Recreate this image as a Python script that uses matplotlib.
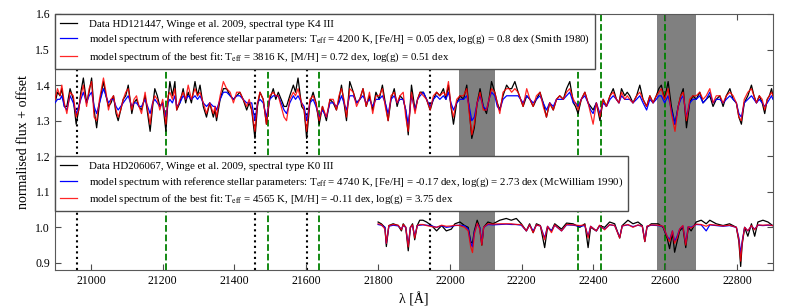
import numpy as np
import matplotlib
matplotlib.use('Agg')
import matplotlib.pyplot as plt

plt.rcParams['font.family'] = ['Liberation Serif', 'DejaVu Serif']
plt.rcParams['mathtext.fontset'] = 'stix'

#top spectrum, HD121447 (offset +0.35)
lam_top = [20900, 20907, 20914, 20919, 20926, 20933, 20942, 20951, 20959, 20966,
           20972, 20979, 20988, 20995, 21002, 21009, 21016, 21024, 21035, 21042,
           21049, 21056, 21063, 21070, 21076, 21083, 21090, 21097, 21104, 21114,
           21120, 21127, 21134, 21141, 21151, 21158, 21165, 21172, 21178, 21185,
           21192, 21200, 21209, 21215, 21220, 21227, 21234, 21239, 21248, 21257,
           21264, 21271, 21280, 21290, 21297, 21304, 21313, 21322, 21331, 21341,
           21346, 21350, 21360, 21369, 21378, 21388, 21397, 21406, 21415, 21424,
           21434, 21441, 21448, 21457, 21464, 21471, 21480, 21489, 21498, 21508,
           21515, 21522, 21530, 21538, 21545, 21554, 21564, 21570, 21577, 21587,
           21594, 21601, 21610, 21619, 21627, 21636, 21645, 21656, 21666, 21675,
           21684, 21691, 21698, 21705, 21712, 21721, 21731, 21740, 21749, 21758,
           21767, 21776, 21785, 21794, 21803, 21812, 21820, 21828, 21836, 21845,
           21853, 21861, 21870, 21877, 21884, 21893, 21903, 21910, 21917, 21926,
           21935, 21945, 21954, 21963, 21972, 21982, 21989, 21996, 22003, 22010,
           22019, 22028, 22038, 22047, 22054, 22061, 22068, 22076, 22084, 22093,
           22102, 22109, 22116, 22125, 22132, 22139, 22148, 22158, 22165, 22172,
           22181, 22190, 22197, 22204, 22214, 22223, 22232, 22241, 22251, 22260,
           22269, 22278, 22288, 22297, 22306, 22316, 22325, 22334, 22344, 22350,
           22357, 22366, 22376, 22385, 22392, 22399, 22408, 22418, 22427, 22436,
           22446, 22455, 22464, 22471, 22478, 22487, 22494, 22501, 22510, 22520,
           22529, 22538, 22548, 22557, 22566, 22575, 22582, 22589, 22598, 22608,
           22617, 22627, 22636, 22643, 22650, 22659, 22668, 22677, 22686, 22696,
           22705, 22714, 22724, 22733, 22742, 22752, 22761, 22770, 22780, 22789,
           22798, 22805, 22812, 22820, 22830, 22840, 22847, 22854, 22862, 22870,
           22877, 22884, 22890, 22896, 22900]
data_top = [1.35, 1.38, 1.37, 1.39, 1.34, 1.34, 1.39, 1.36, 1.29, 1.33,
            1.38, 1.42, 1.35, 1.38, 1.42, 1.33, 1.28, 1.35, 1.41, 1.37,
            1.34, 1.35, 1.37, 1.32, 1.30, 1.33, 1.36, 1.37, 1.40, 1.32,
            1.35, 1.36, 1.34, 1.33, 1.37, 1.32, 1.27, 1.34, 1.39, 1.37,
            1.34, 1.35, 1.27, 1.36, 1.41, 1.37, 1.41, 1.33, 1.35, 1.39,
            1.35, 1.38, 1.35, 1.41, 1.37, 1.40, 1.34, 1.31, 1.35, 1.31,
            1.33, 1.30, 1.36, 1.39, 1.39, 1.37, 1.36, 1.37, 1.38, 1.36,
            1.33, 1.35, 1.33, 1.25, 1.34, 1.38, 1.36, 1.29, 1.36, 1.39,
            1.36, 1.38, 1.36, 1.34, 1.34, 1.37, 1.40, 1.38, 1.42, 1.34,
            1.33, 1.25, 1.35, 1.38, 1.35, 1.29, 1.34, 1.30, 1.36, 1.35,
            1.33, 1.36, 1.40, 1.35, 1.30, 1.41, 1.38, 1.35, 1.36, 1.39,
            1.34, 1.37, 1.33, 1.38, 1.36, 1.40, 1.35, 1.30, 1.36, 1.39,
            1.34, 1.37, 1.36, 1.33, 1.26, 1.40, 1.33, 1.36, 1.38, 1.38,
            1.36, 1.33, 1.36, 1.38, 1.37, 1.39, 1.36, 1.40, 1.34, 1.29,
            1.35, 1.37, 1.36, 1.40, 1.33, 1.25, 1.28, 1.35, 1.39, 1.34,
            1.32, 1.36, 1.41, 1.38, 1.35, 1.33, 1.37, 1.40, 1.39, 1.39,
            1.41, 1.38, 1.36, 1.34, 1.37, 1.36, 1.34, 1.36, 1.38, 1.35,
            1.31, 1.35, 1.33, 1.36, 1.37, 1.36, 1.39, 1.41, 1.35, 1.34,
            1.32, 1.36, 1.38, 1.35, 1.34, 1.33, 1.35, 1.30, 1.36, 1.34,
            1.37, 1.39, 1.36, 1.35, 1.39, 1.37, 1.38, 1.37, 1.35, 1.37,
            1.40, 1.36, 1.34, 1.37, 1.35, 1.37, 1.39, 1.40, 1.36, 1.41,
            1.34, 1.29, 1.34, 1.37, 1.39, 1.28, 1.35, 1.37, 1.36, 1.38,
            1.35, 1.36, 1.37, 1.34, 1.36, 1.37, 1.34, 1.37, 1.39, 1.36,
            1.35, 1.31, 1.29, 1.35, 1.37, 1.40, 1.37, 1.35, 1.37, 1.35,
            1.32, 1.36, 1.37, 1.39, 1.37]
ref_top = [1.35, 1.36, 1.36, 1.37, 1.34, 1.33, 1.37, 1.35, 1.32, 1.34,
           1.36, 1.38, 1.35, 1.37, 1.38, 1.34, 1.32, 1.35, 1.39, 1.37,
           1.35, 1.36, 1.36, 1.34, 1.33, 1.34, 1.35, 1.36, 1.37, 1.34,
           1.35, 1.35, 1.34, 1.34, 1.36, 1.34, 1.32, 1.35, 1.36, 1.35,
           1.34, 1.35, 1.31, 1.35, 1.36, 1.35, 1.37, 1.34, 1.35, 1.37,
           1.36, 1.37, 1.36, 1.37, 1.36, 1.37, 1.35, 1.34, 1.35, 1.34,
           1.34, 1.33, 1.36, 1.38, 1.38, 1.37, 1.36, 1.37, 1.37, 1.36,
           1.35, 1.35, 1.35, 1.30, 1.35, 1.36, 1.35, 1.31, 1.36, 1.37,
           1.37, 1.37, 1.35, 1.33, 1.32, 1.35, 1.37, 1.36, 1.37, 1.35,
           1.34, 1.30, 1.35, 1.36, 1.34, 1.31, 1.33, 1.31, 1.35, 1.35,
           1.34, 1.35, 1.37, 1.35, 1.33, 1.37, 1.37, 1.35, 1.36, 1.37,
           1.35, 1.36, 1.34, 1.36, 1.36, 1.37, 1.35, 1.32, 1.36, 1.37,
           1.35, 1.36, 1.36, 1.33, 1.29, 1.37, 1.33, 1.36, 1.37, 1.38,
           1.36, 1.34, 1.36, 1.37, 1.36, 1.37, 1.36, 1.38, 1.35, 1.33,
           1.35, 1.36, 1.36, 1.37, 1.34, 1.30, 1.31, 1.35, 1.37, 1.34,
           1.33, 1.36, 1.38, 1.37, 1.34, 1.33, 1.36, 1.37, 1.37, 1.37,
           1.37, 1.37, 1.36, 1.35, 1.37, 1.36, 1.35, 1.36, 1.37, 1.35,
           1.33, 1.35, 1.34, 1.36, 1.36, 1.36, 1.37, 1.38, 1.35, 1.35,
           1.34, 1.36, 1.37, 1.35, 1.33, 1.32, 1.35, 1.32, 1.35, 1.34,
           1.36, 1.37, 1.36, 1.35, 1.37, 1.36, 1.36, 1.36, 1.35, 1.36,
           1.37, 1.35, 1.33, 1.36, 1.35, 1.36, 1.37, 1.37, 1.35, 1.37,
           1.33, 1.29, 1.34, 1.36, 1.37, 1.31, 1.35, 1.36, 1.36, 1.37,
           1.35, 1.36, 1.38, 1.35, 1.36, 1.36, 1.35, 1.36, 1.37, 1.36,
           1.35, 1.32, 1.31, 1.35, 1.36, 1.37, 1.36, 1.35, 1.36, 1.35,
           1.34, 1.35, 1.36, 1.37, 1.36]
fit_top = [1.36, 1.39, 1.37, 1.40, 1.35, 1.32, 1.38, 1.37, 1.31, 1.33,
           1.37, 1.40, 1.34, 1.39, 1.41, 1.31, 1.30, 1.36, 1.42, 1.38,
           1.33, 1.36, 1.37, 1.33, 1.31, 1.33, 1.36, 1.38, 1.39, 1.33,
           1.36, 1.37, 1.34, 1.32, 1.38, 1.33, 1.29, 1.35, 1.37, 1.36,
           1.33, 1.36, 1.29, 1.37, 1.38, 1.36, 1.39, 1.33, 1.36, 1.38,
           1.36, 1.40, 1.36, 1.39, 1.37, 1.38, 1.35, 1.32, 1.35, 1.32,
           1.34, 1.31, 1.37, 1.41, 1.39, 1.38, 1.35, 1.38, 1.38, 1.36,
           1.34, 1.36, 1.33, 1.27, 1.35, 1.38, 1.36, 1.29, 1.37, 1.38,
           1.37, 1.37, 1.34, 1.31, 1.30, 1.36, 1.38, 1.37, 1.39, 1.35,
           1.33, 1.27, 1.36, 1.37, 1.35, 1.30, 1.34, 1.31, 1.36, 1.36,
           1.33, 1.37, 1.39, 1.36, 1.31, 1.39, 1.38, 1.34, 1.36, 1.39,
           1.34, 1.38, 1.32, 1.37, 1.37, 1.39, 1.34, 1.30, 1.37, 1.38,
           1.35, 1.37, 1.38, 1.31, 1.27, 1.38, 1.32, 1.36, 1.38, 1.37,
           1.36, 1.33, 1.37, 1.38, 1.37, 1.38, 1.37, 1.41, 1.34, 1.31,
           1.36, 1.37, 1.37, 1.39, 1.32, 1.26, 1.29, 1.35, 1.38, 1.33,
           1.33, 1.36, 1.39, 1.38, 1.35, 1.32, 1.38, 1.39, 1.39, 1.38,
           1.39, 1.38, 1.36, 1.34, 1.39, 1.36, 1.34, 1.37, 1.38, 1.34,
           1.31, 1.35, 1.33, 1.36, 1.37, 1.36, 1.38, 1.39, 1.36, 1.35,
           1.33, 1.36, 1.38, 1.35, 1.32, 1.29, 1.35, 1.31, 1.36, 1.34,
           1.37, 1.38, 1.36, 1.35, 1.38, 1.36, 1.37, 1.36, 1.35, 1.37,
           1.38, 1.36, 1.34, 1.37, 1.35, 1.37, 1.38, 1.39, 1.36, 1.39,
           1.32, 1.27, 1.34, 1.37, 1.38, 1.30, 1.36, 1.37, 1.37, 1.38,
           1.36, 1.37, 1.39, 1.35, 1.37, 1.37, 1.35, 1.37, 1.38, 1.37,
           1.35, 1.31, 1.30, 1.36, 1.38, 1.39, 1.37, 1.35, 1.37, 1.36,
           1.33, 1.36, 1.37, 1.38, 1.37]

#bottom spectrum, HD206067 (no offset)
lam_bot = [21800, 21809, 21819, 21823, 21830, 21842, 21856, 21865, 21870, 21877,
           21884, 21890, 21896, 21902, 21909, 21916, 21925, 21935, 21949, 21963,
           21977, 21990, 22004, 22014, 22028, 22041, 22051, 22058, 22063, 22068,
           22076, 22083, 22089, 22094, 22106, 22120, 22139, 22157, 22171, 22185,
           22199, 22213, 22222, 22232, 22241, 22252, 22264, 22272, 22283, 22292,
           22311, 22325, 22343, 22362, 22376, 22385, 22392, 22408, 22417, 22431,
           22445, 22459, 22473, 22480, 22496, 22510, 22524, 22536, 22543, 22549,
           22561, 22580, 22594, 22605, 22612, 22620, 22626, 22633, 22640, 22649,
           22657, 22664, 22672, 22686, 22700, 22714, 22724, 22742, 22761, 22779,
           22798, 22805, 22810, 22814, 22821, 22830, 22840, 22849, 22858, 22872,
           22886, 22899]
data_bot = [1.015, 1.010, 1.000, 0.946, 1.005, 1.010, 1.005, 0.990, 1.010, 1.000,
            0.934, 1.000, 1.010, 0.965, 1.005, 1.020, 1.020, 1.015, 1.005, 0.990,
            1.005, 0.990, 0.995, 1.010, 1.015, 1.005, 1.000, 0.960, 0.955, 0.990,
            1.020, 1.000, 0.950, 1.000, 1.015, 1.010, 1.020, 1.025, 1.020, 1.025,
            1.010, 0.990, 1.010, 0.985, 1.010, 1.005, 0.943, 1.000, 0.990, 1.010,
            0.995, 1.012, 1.010, 1.000, 1.010, 0.943, 1.000, 0.990, 1.005, 1.000,
            1.015, 1.010, 0.970, 1.005, 1.020, 1.010, 1.015, 1.005, 0.960, 1.000,
            1.010, 1.010, 1.000, 0.970, 0.940, 0.985, 0.930, 0.960, 0.990, 1.000,
            0.943, 1.000, 0.990, 1.015, 1.020, 1.010, 1.020, 1.010, 1.005, 1.010,
            1.000, 0.960, 0.890, 0.950, 1.000, 0.975, 1.010, 0.975, 1.015, 1.020,
            1.015, 1.005]
ref_bot = [1.008, 1.006, 1.000, 0.955, 1.003, 1.006, 1.004, 0.995, 1.005, 1.000,
           0.950, 1.000, 1.005, 0.975, 1.005, 1.006, 1.007, 1.006, 1.004, 1.000,
           1.005, 1.000, 1.002, 1.005, 1.006, 1.004, 0.995, 0.955, 0.945, 0.985,
           1.010, 1.000, 0.955, 1.000, 1.008, 1.007, 1.008, 1.009, 1.008, 1.008,
           1.006, 0.990, 1.006, 0.990, 1.006, 1.004, 0.970, 1.003, 0.990, 1.006,
           0.990, 1.007, 1.006, 1.003, 1.005, 0.975, 1.003, 0.990, 1.004, 0.995,
           1.007, 1.005, 0.972, 1.004, 1.007, 1.002, 1.006, 1.003, 0.962, 1.003,
           1.006, 1.005, 1.002, 0.975, 0.965, 0.990, 0.960, 0.975, 0.995, 1.004,
           0.955, 1.002, 1.000, 1.008, 1.007, 0.990, 1.007, 1.005, 1.003, 1.005,
           1.000, 0.970, 0.925, 0.960, 1.000, 0.990, 1.004, 0.995, 1.006, 1.005,
           1.006, 1.005]
fit_bot = [1.010, 1.008, 0.995, 0.955, 1.005, 1.008, 1.006, 0.993, 1.008, 1.000,
           0.945, 1.000, 1.007, 0.970, 1.005, 1.008, 1.008, 1.005, 1.002, 1.000,
           1.006, 1.003, 1.004, 1.006, 1.005, 1.000, 0.990, 0.945, 0.929, 0.980,
           1.012, 0.995, 0.950, 1.000, 1.010, 1.009, 1.010, 1.010, 1.010, 1.008,
           1.008, 0.990, 1.007, 0.985, 1.007, 1.004, 0.965, 1.003, 0.985, 1.007,
           0.990, 1.008, 1.007, 1.005, 1.007, 0.970, 1.003, 0.990, 1.006, 0.993,
           1.008, 1.005, 0.970, 1.004, 1.008, 1.000, 1.007, 1.003, 0.960, 1.003,
           1.007, 1.006, 1.003, 0.975, 0.960, 0.990, 0.955, 0.970, 0.995, 1.005,
           0.950, 1.002, 0.998, 1.009, 1.008, 1.003, 1.008, 1.006, 1.004, 1.006,
           1.000, 0.965, 0.905, 0.955, 1.000, 0.990, 1.005, 0.993, 1.007, 1.006,
           1.007, 1.005]

#marked lines and excluded regions
dotted_lines = [20960, 21457, 21601, 21945]
dashed_lines = [21208, 21492, 21636, 22357, 22420, 22600]
masked = [(22025, 22127), (22577, 22686)]

lab_top = ['Data HD121447, Winge et al. 2009, spectral type K4 III',
           r'model spectrum with reference stellar parameters: T$_{\rm eff}$ = 4200 K, [Fe/H] = 0.05 dex, log(g) = 0.8 dex (Smith 1980)',
           r'model spectrum of the best fit: T$_{\rm eff}$ = 3816 K, [M/H] = 0.72 dex, log(g) = 0.51 dex']
lab_bot = ['Data HD206067, Winge et al. 2009, spectral type K0 III',
           r'model spectrum with reference stellar parameters: T$_{\rm eff}$ = 4740 K, [Fe/H] = -0.17 dex, log(g) = 2.73 dex (McWilliam 1990)',
           r'model spectrum of the best fit: T$_{\rm eff}$ = 4565 K, [M/H] = -0.11 dex, log(g) = 3.75 dex']

fig = plt.figure(figsize=(7.89, 3.07), dpi=100)
ax = fig.add_axes([0.0697, 0.1205, 0.9100, 0.8339])

for a, b in masked:
    ax.axvspan(a, b, color='0.5', lw=0, zorder=0)
for x in dotted_lines:
    ax.axvline(x, color='k', ls=':', lw=1.5, zorder=1)
for x in dashed_lines:
    ax.axvline(x, color='green', ls='--', lw=1.3, zorder=1)

h1, = ax.plot(lam_top, data_top, color='k', lw=0.9, zorder=2)
h2, = ax.plot(lam_top, ref_top, color='b', lw=0.9, zorder=3)
h3, = ax.plot(lam_top, fit_top, color='r', lw=0.9, alpha=0.85, zorder=4)
g1, = ax.plot(lam_bot, data_bot, color='k', lw=0.9, zorder=2)
g2, = ax.plot(lam_bot, ref_bot, color='b', lw=0.9, zorder=3)
g3, = ax.plot(lam_bot, fit_bot, color='r', lw=0.9, alpha=0.85, zorder=4)

ax.set_xlim(20900, 22900)
ax.set_ylim(0.88, 1.6)
ax.set_xticks([21000, 21200, 21400, 21600, 21800, 22000, 22200, 22400, 22600, 22800])
ax.set_yticks([0.9, 1.0, 1.1, 1.2, 1.3, 1.4, 1.5, 1.6])
ax.tick_params(direction='in', top=True, right=True, labelsize=8.5, length=4, color='0.3')
for s in ax.spines.values():
    s.set_color('0.35')
ax.set_xlabel('λ [Å]', fontsize=10)
ax.set_ylabel('normalised flux + offset', fontsize=10)

leg_kw = dict(fontsize=7.85, handlelength=1.6, handletextpad=1.1, fancybox=False,
              framealpha=1, edgecolor='0.3', borderaxespad=0, borderpad=0.45,
              labelspacing=0.4)
l1 = ax.legend([h1, h2, h3], lab_top, loc='upper left', **leg_kw)
l1.set_zorder(10)
ax.add_artist(l1)
ybox = (1.2 - 0.88) / (1.6 - 0.88)
l2 = ax.legend([g1, g2, g3], lab_bot, loc='upper left', bbox_to_anchor=(0, ybox), **leg_kw)
l2.set_zorder(10)

plt.savefig('out.png', dpi=100)
